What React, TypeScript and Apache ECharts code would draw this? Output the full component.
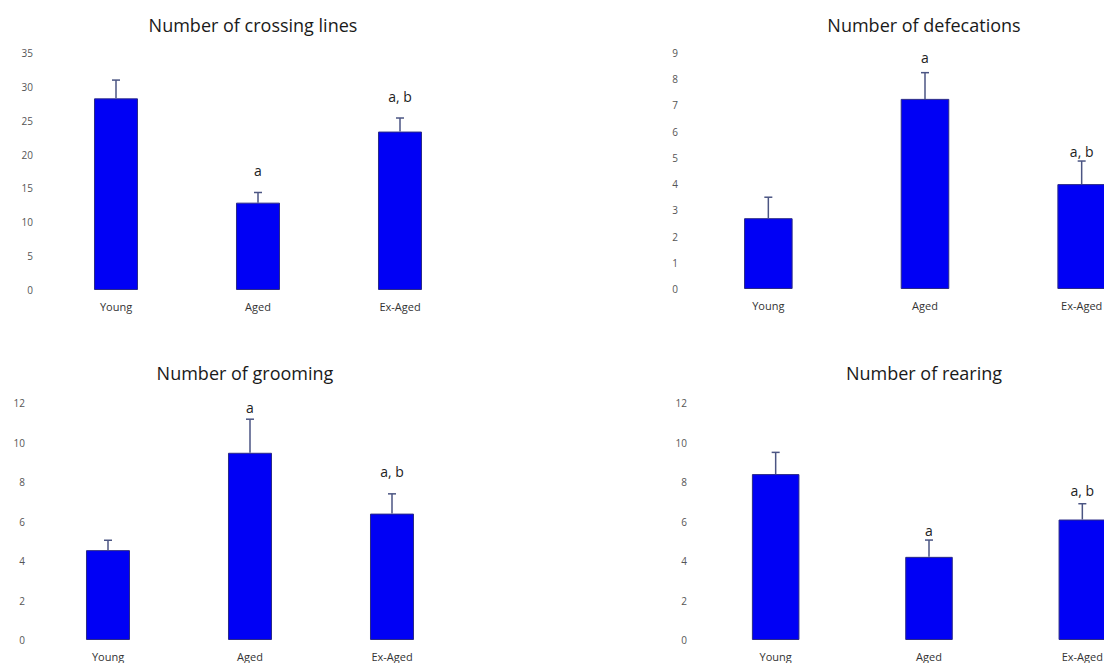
import React, { useEffect, useRef } from "react";
import * as echarts from "echarts";

// Groups shared by every panel
const groups = ["Young", "Aged", "Ex-Aged"];

// Number of crossing lines
const crossingMean = [28.3, 12.9, 23.4];
const crossingSem = [2.7, 1.5, 2.0];
const crossingMarks = ["", "a", "a, b"];

// Number of defecations
const defecationMean = [2.7, 7.25, 4.0];
const defecationSem = [0.8, 1.0, 0.88];
const defecationMarks = ["", "a", "a, b"];

// Number of grooming
const groomingMean = [4.55, 9.48, 6.4];
const groomingSem = [0.5, 1.7, 1.0];
const groomingMarks = ["", "a", "a, b"];

// Number of rearing
const rearingMean = [8.4, 4.21, 6.1];
const rearingSem = [1.1, 0.85, 0.8];
const rearingMarks = ["", "a", "a, b"];

const FONT = "'Open Sans', 'Liberation Sans', Arial, sans-serif";

type Panel = {
  title: string;
  mean: number[];
  sem: number[];
  marks: string[];
  max: number;
  interval: number;
  grid: { left: number; top: number; width: number; height: number };
  titleX: number;
  titleY: number;
  lift: number[];
};

// The right-hand column runs past the page edge, so the canvas is wider than the view.
const panels: Panel[] = [
  {
    title: "Number of crossing lines",
    mean: crossingMean,
    sem: crossingSem,
    marks: crossingMarks,
    max: 35,
    interval: 5,
    grid: { left: 45, top: 53, width: 426, height: 237 },
    titleX: 248,
    titleY: 11,
    lift: [0, 22, 22],
  },
  {
    title: "Number of defecations",
    mean: defecationMean,
    sem: defecationSem,
    marks: defecationMarks,
    max: 9,
    interval: 1,
    grid: { left: 690, top: 53, width: 470, height: 236 },
    titleX: 919,
    titleY: 11,
    lift: [0, 15, 10],
  },
  {
    title: "Number of grooming",
    mean: groomingMean,
    sem: groomingSem,
    marks: groomingMarks,
    max: 12,
    interval: 2,
    grid: { left: 37, top: 403, width: 426, height: 237 },
    titleX: 240,
    titleY: 359,
    lift: [0, 12, 22],
  },
  {
    title: "Number of rearing",
    mean: rearingMean,
    sem: rearingSem,
    marks: rearingMarks,
    max: 12,
    interval: 2,
    grid: { left: 699, top: 403, width: 460, height: 237 },
    titleX: 919,
    titleY: 359,
    lift: [0, 10, 13],
  },
];

function buildOption() {
  const title: any[] = [];
  const grid: any[] = [];
  const xAxis: any[] = [];
  const yAxis: any[] = [];
  const series: any[] = [];

  panels.forEach((p, i) => {
    title.push({
      text: p.title,
      left: p.titleX,
      top: p.titleY,
      textAlign: "center",
      textStyle: { fontFamily: FONT, fontSize: 18, fontWeight: "normal", color: "#1a1a1a" },
    });
    grid.push({ ...p.grid, containLabel: false });
    xAxis.push({
      type: "category",
      gridIndex: i,
      data: groups,
      axisLine: { show: false },
      axisTick: { show: false },
      axisLabel: { margin: 11, fontFamily: FONT, fontSize: 11, color: "#333" },
    });
    yAxis.push({
      type: "value",
      gridIndex: i,
      min: 0,
      max: p.max,
      interval: p.interval,
      splitLine: { show: false },
      axisLine: { show: false },
      axisTick: { show: false },
      axisLabel: { margin: 12, fontFamily: FONT, fontSize: 10, color: "#555" },
    });
    series.push({
      type: "bar",
      xAxisIndex: i,
      yAxisIndex: i,
      data: p.mean,
      barWidth: "31%",
      itemStyle: { color: "#0000f5", borderColor: "#2b2b86", borderWidth: 1 },
    });
    // Upper error whisker with cap, plus the significance letters above it
    series.push({
      type: "custom",
      xAxisIndex: i,
      yAxisIndex: i,
      data: p.mean.map((m, k) => [k, m, p.sem[k]]),
      z: 5,
      renderItem: (params: any, api: any) => {
        const k = api.value(0);
        const m = api.value(1);
        const s = api.value(2);
        const base = api.coord([k, m]);
        const top = api.coord([k, m + s]);
        const children: any[] = [
          {
            type: "line",
            shape: { x1: base[0], y1: base[1], x2: top[0], y2: top[1] },
            style: { stroke: "#4b5583", lineWidth: 1.5 },
          },
          {
            type: "line",
            shape: { x1: top[0] - 4, y1: top[1], x2: top[0] + 4, y2: top[1] },
            style: { stroke: "#4b5583", lineWidth: 1.5 },
          },
        ];
        const mark = p.marks[k];
        if (mark) {
          children.push({
            type: "text",
            x: top[0],
            y: top[1] - p.lift[k],
            style: {
              text: mark,
              fontFamily: FONT,
              fontSize: 14,
              fill: "#222",
              align: "center",
              verticalAlign: "middle",
            },
          });
        }
        return { type: "group", children };
      },
    });
  });

  return { animation: false, backgroundColor: "#ffffff", title, grid, xAxis, yAxis, series };
}

export default function App() {
  const ref = useRef<HTMLDivElement>(null);

  useEffect(() => {
    if (!ref.current) return;
    const chart = echarts.init(ref.current, undefined, { renderer: "svg" });
    chart.setOption(buildOption());
    return () => chart.dispose();
  }, []);

  return (
    <div
      ref={ref}
      style={{ position: "fixed", left: 0, top: 0, width: 1180, height: 663, background: "#fff" }}
    />
  );
}
